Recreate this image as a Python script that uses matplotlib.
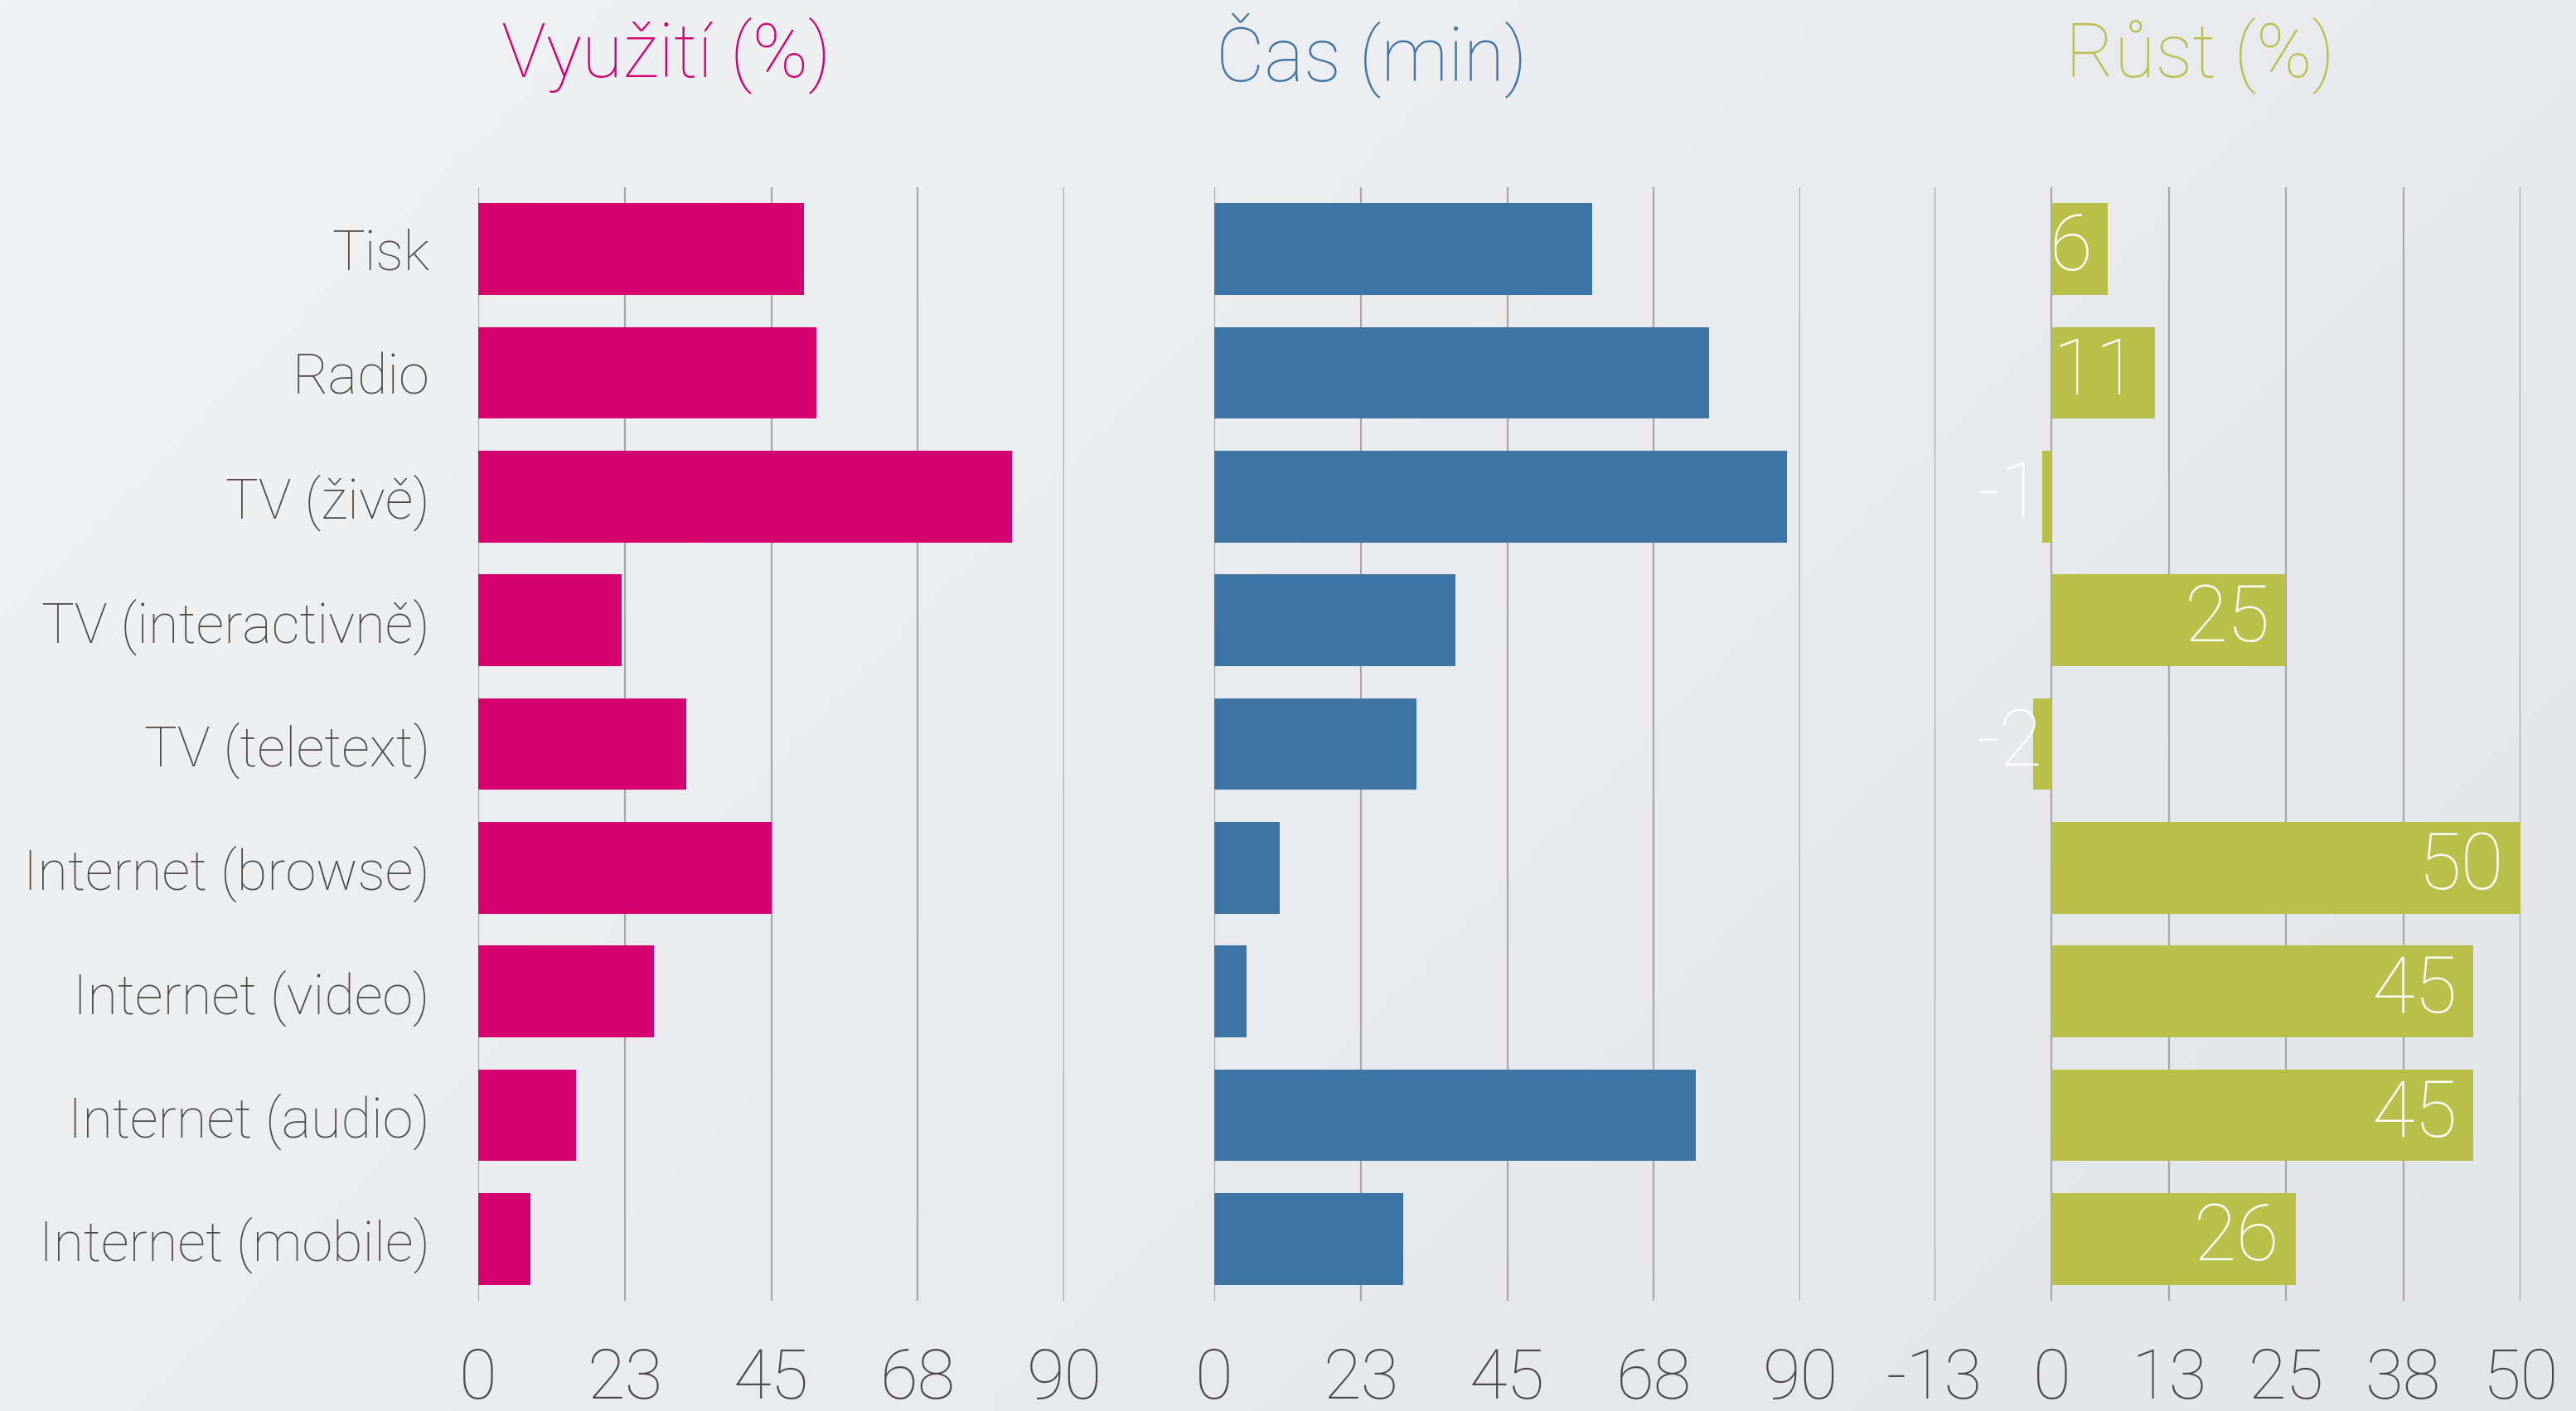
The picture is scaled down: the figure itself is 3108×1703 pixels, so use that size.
import numpy as np
import matplotlib.pyplot as plt

categories = ['Tisk', 'Radio', 'TV (živě)', 'TV (interactivně)', 'TV (teletext)',
              'Internet (browse)', 'Internet (video)', 'Internet (audio)', 'Internet (mobile)']
vyuziti = [50, 52, 82, 22, 32, 45, 27, 15, 8]
cas = [58, 76, 88, 37, 31, 10, 5, 74, 29]
rust = [6, 11, -1, 25, -2, 50, 45, 45, 26]

titles = ['Využití (%)', 'Čas (min)', 'Růst (%)']
colors = ['#D5006E', '#3D74A6', '#B9C04A']
ticks_a = [0, 22.5, 45, 67.5, 90]
ticks_a_labels = ['0', '23', '45', '68', '90']
ticks_b = [-12.5, 0, 12.5, 25, 37.5, 50]
ticks_b_labels = ['-13', '0', '13', '25', '38', '50']

plt.rcParams['font.family'] = ['Roboto', 'DejaVu Sans']
text_grey = '#4A4A4A'
grid_grey = '#A8A8A8'
fw = 'light'

W, H = 3108, 1703
fig = plt.figure(figsize=(W / 200, H / 200), dpi=200)

# background with a soft gradient
bg = fig.add_axes([0, 0, 1, 1], zorder=0)
gx = np.linspace(0, 1, 300)
gy = np.linspace(0, 1, 200)
X, Y = np.meshgrid(gx, gy)
t = 0.65 * X + 0.35 * Y
c0 = np.array([0xF1, 0xF2, 0xF4]) / 255
c1 = np.array([0xE2, 0xE5, 0xE9]) / 255
img = c0[None, None, :] * (1 - t[..., None]) + c1[None, None, :] * t[..., None]
bg.imshow(img, aspect='auto', extent=[0, 1, 0, 1], origin='upper')
bg.axis('off')

lefts = [577, 1465, 2334]
panel_w = 707
bottom = 1 - 1570 / H
height = 1344 / H
series = [vyuziti, cas, rust]
y = np.arange(len(categories))

for k in range(3):
    ax = fig.add_axes([lefts[k] / W, bottom, panel_w / W, height], zorder=1)
    ax.set_facecolor('none')
    vals = series[k]
    ax.barh(y, vals, height=0.74, color=colors[k], zorder=3)
    ax.set_ylim(len(categories) - 0.5, -0.5)
    if k < 2:
        ax.set_xlim(0, 90)
        ax.set_xticks(ticks_a)
        ax.set_xticklabels(ticks_a_labels)
    else:
        ax.set_xlim(-12.5, 50)
        ax.set_xticks(ticks_b)
        ax.set_xticklabels(ticks_b_labels)
    ax.grid(axis='x', color=grid_grey, linewidth=0.8, zorder=1)
    ax.set_axisbelow(True)
    for s in ax.spines.values():
        s.set_visible(False)
    ax.tick_params(axis='x', length=0, pad=20, labelsize=30, labelcolor=text_grey)
    ax.tick_params(axis='y', length=0, pad=21, labelsize=24, labelcolor=text_grey)
    if k == 0:
        ax.set_yticks(y)
        ax.set_yticklabels(categories)
    else:
        ax.set_yticks([])
    for lab in ax.get_xticklabels() + ax.get_yticklabels():
        lab.set_fontweight(fw)

    if k == 2:
        for i, v in enumerate(vals):
            if v >= 0:
                ax.annotate(str(v), (v, i), xytext=(-7, 0), textcoords='offset points',
                            ha='right', va='center', color='white', fontsize=34,
                            fontweight=fw, zorder=4)
            else:
                ax.annotate(str(v), (ax.get_xlim()[0], i), xytext=(18, 0),
                            textcoords='offset points', ha='left', va='center',
                            color='white', fontsize=34, fontweight=fw, zorder=4)

title_x = [804, 1655, 2654]
for k in range(3):
    fig.text(title_x[k] / W, 1 - 67 / H, titles[k], color=colors[k], fontsize=32.5,
             fontweight=fw, ha='center', va='center')

fig.savefig('out.png', dpi=200)
